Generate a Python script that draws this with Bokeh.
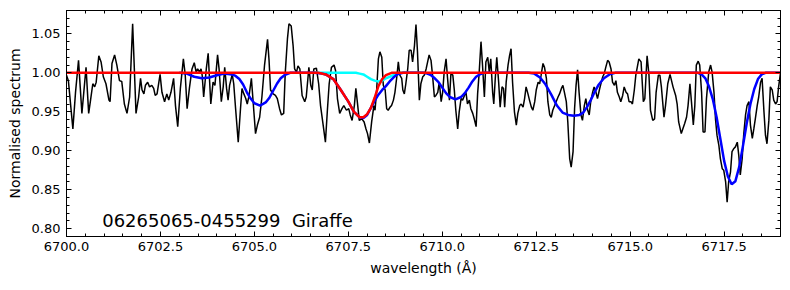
from bokeh.plotting import figure
from bokeh.models import Range1d, LinearAxis, SingleIntervalTicker, NumeralTickFormatter, Label
from bokeh.embed import file_html
from bokeh.resources import INLINE

# ---- observed spectrum (black) ----
wavelength = [
6700.00,6700.05,6700.17,6700.24,6700.32,6700.41,6700.46,6700.52,6700.59,6700.64,6700.70,6700.75,6700.79,6700.86,6700.92,6700.98,
6701.05,6701.13,6701.16,6701.21,6701.28,6701.34,6701.41,6701.47,6701.54,6701.61,6701.68,6701.76,6701.85,6701.92,6701.97,
6702.01,6702.06,6702.10,6702.16,6702.21,6702.27,6702.32,6702.36,6702.41,6702.49,6702.54,6702.61,6702.67,6702.72,6702.78,6702.85,6702.90,6702.96,
6703.03,6703.11,6703.16,6703.21,6703.27,6703.34,6703.40,6703.45,6703.49,6703.54,6703.58,6703.61,6703.65,6703.72,6703.77,
6703.84,6703.90,6703.95,6704.02,6704.06,6704.12,6704.17,6704.21,6704.26,6704.30,6704.34,6704.41,6704.45,6704.50,6704.57,6704.63,6704.67,6704.72,6704.77,6704.81,6704.86,6704.92,6704.96,
6705.03,6705.08,6705.14,6705.20,6705.27,6705.35,6705.39,6705.43,6705.50,6705.56,6705.61,6705.67,6705.72,6705.78,6705.82,6705.88,6705.92,6705.98,
6706.03,6706.07,6706.12,6706.16,6706.21,6706.27,6706.34,6706.38,6706.45,6706.50,6706.54,6706.58,6706.65,6706.71,6706.76,6706.83,6706.89,6706.94,6706.99,
6707.05,6707.12,6707.16,6707.21,6707.27,6707.33,6707.38,6707.45,6707.51,6707.55,6707.60,6707.66,6707.70,6707.75,6707.79,6707.86,6707.92,6707.97,
6708.01,6708.06,6708.12,6708.18,6708.21,6708.25,6708.30,6708.34,6708.39,6708.43,6708.48,6708.52,6708.56,6708.61,6708.65,6708.70,6708.74,6708.79,6708.83,6708.87,6708.92,6708.95,6708.99,
6709.03,6709.08,6709.12,6709.17,6709.21,6709.26,6709.30,6709.34,6709.39,6709.43,6709.48,6709.52,6709.57,6709.61,6709.65,6709.70,6709.74,6709.79,6709.83,6709.88,6709.92,6709.97,
6710.01,6710.05,6710.10,6710.14,6710.19,6710.23,6710.28,6710.32,6710.36,6710.41,6710.45,6710.50,6710.54,6710.59,6710.63,6710.67,6710.72,6710.76,6710.81,6710.85,6710.90,6710.94,6710.98,
6711.03,6711.07,6711.12,6711.16,6711.21,6711.25,6711.29,6711.34,6711.37,6711.41,6711.45,6711.50,6711.54,6711.59,6711.63,6711.66,6711.70,6711.75,6711.79,6711.83,6711.87,6711.92,6711.97,
6712.01,6712.06,6712.10,6712.15,6712.19,6712.23,6712.28,6712.32,6712.37,6712.41,6712.46,6712.50,6712.55,6712.59,6712.63,6712.68,6712.72,6712.77,6712.81,6712.86,6712.90,6712.94,6712.99,
6713.03,6713.08,6713.12,6713.17,6713.21,6713.25,6713.30,6713.34,6713.39,6713.43,6713.48,6713.52,6713.56,6713.60,6713.64,6713.69,6713.73,6713.78,6713.82,6713.87,6713.91,6713.95,
6714.00,6714.04,6714.09,6714.13,6714.18,6714.22,6714.27,6714.31,6714.35,6714.40,6714.44,6714.49,6714.53,6714.58,6714.62,6714.66,6714.71,6714.75,6714.80,6714.84,6714.89,6714.93,6714.97,
6715.02,6715.06,6715.11,6715.15,6715.23,6715.29,6715.35,6715.39,6715.45,6715.50,6715.54,6715.60,6715.65,6715.69,6715.75,6715.79,6715.83,6715.90,6715.94,
6716.00,6716.06,6716.10,6716.14,6716.21,6716.25,6716.29,6716.36,6716.40,6716.45,6716.50,6716.54,6716.59,6716.63,6716.68,6716.72,6716.76,6716.81,6716.85,6716.90,6716.94,6716.99,
6717.03,6717.09,6717.14,6717.18,6717.23,6717.27,6717.31,6717.36,6717.40,6717.45,6717.49,6717.54,6717.58,6717.62,6717.67,6717.71,6717.76,6717.80,6717.85,6717.89,6717.93,6717.98,
6718.02,6718.07,6718.11,6718.16,6718.20,6718.25,6718.29,6718.33,6718.38,6718.42,6718.47,6718.51,6718.56,6718.60,6718.64,6718.69,6718.73,6718.78,6718.82,6718.87,6718.91,6718.95,6719.00]

flux = [
0.997,0.990,0.928,0.975,1.016,0.948,0.975,1.007,0.948,0.965,0.986,0.982,0.988,1.022,1.014,0.995,
0.986,0.965,0.963,1.012,1.023,1.010,0.990,0.989,0.960,0.948,0.969,1.063,0.948,0.969,0.993,
0.978,0.973,0.984,0.988,0.982,0.984,0.980,0.971,0.973,0.998,0.975,0.963,0.973,0.965,0.975,0.993,0.958,0.931,
0.980,1.018,0.997,0.954,0.980,1.005,1.013,1.001,1.005,1.001,1.005,0.997,0.969,1.005,1.025,
0.960,0.988,0.984,1.023,1.005,0.963,0.982,1.007,0.980,0.965,0.984,0.998,0.986,0.954,0.911,0.954,0.980,0.973,0.967,0.960,0.971,0.993,0.967,
0.922,0.933,0.943,0.969,1.010,1.043,1.016,0.978,0.973,0.971,0.967,0.954,0.946,0.948,0.999,1.044,1.063,1.060,
1.035,1.005,1.001,1.009,1.005,0.971,0.963,0.969,1.007,0.984,0.978,1.005,1.006,0.986,0.958,0.933,0.911,0.950,0.986,
1.007,1.010,1.003,0.967,0.948,0.954,0.958,0.952,0.954,0.946,0.939,0.958,0.980,0.958,0.939,0.941,0.937,0.928,
0.922,0.910,0.937,0.958,0.952,0.975,1.018,1.027,1.020,0.984,0.978,0.954,0.952,0.956,0.958,0.965,0.975,0.995,1.014,0.997,0.993,0.978,0.973,
0.986,1.005,1.029,1.029,1.014,1.035,1.062,1.027,0.965,0.986,0.995,0.997,1.005,1.014,1.023,1.016,0.997,0.969,0.971,0.975,0.988,0.963,
0.975,1.001,1.018,0.993,0.965,0.999,0.997,0.978,0.952,0.928,0.950,0.967,0.965,0.971,0.975,0.960,0.965,0.954,0.948,0.941,0.931,0.973,0.999,
1.040,1.010,0.969,1.014,1.020,1.001,1.018,0.975,0.960,0.993,1.020,0.988,0.956,0.982,0.980,0.956,0.988,1.010,1.022,1.031,0.988,0.950,0.933,
0.948,0.958,0.960,0.956,0.967,0.982,0.973,0.965,0.956,0.952,0.963,0.978,0.988,0.986,0.997,1.012,1.007,0.993,0.963,0.946,0.943,0.952,0.958,
0.963,0.969,0.973,0.980,0.984,0.975,0.963,0.937,0.890,0.879,0.899,0.954,0.984,1.004,0.975,0.946,0.939,0.958,0.967,0.952,0.946,0.963,
0.975,0.982,0.975,0.967,0.978,0.986,0.995,0.999,1.007,1.016,1.014,1.005,0.988,0.984,0.990,0.975,0.969,0.963,0.971,0.982,0.975,0.973,0.963,
0.963,0.960,0.978,0.997,1.018,1.014,0.963,0.967,1.022,0.997,0.952,0.939,0.941,0.975,0.997,0.997,0.982,0.943,0.958,
0.986,0.998,0.990,0.982,0.971,0.960,0.937,0.922,0.928,0.935,0.943,0.958,0.986,0.963,0.933,0.958,1.010,1.015,1.010,0.975,0.924,0.924,
0.967,1.001,1.010,1.001,0.975,0.941,0.920,0.907,0.890,0.877,0.875,0.860,0.834,0.860,0.873,0.899,0.903,0.905,0.911,0.894,0.869,0.890,
0.920,0.946,0.958,0.963,0.933,0.916,0.928,0.941,0.958,0.969,0.988,0.993,0.950,0.920,0.909,0.939,0.982,0.978,0.965,0.960,0.963,0.982,1.000]

# ---- full synthetic fit (blue) ----
blue_wl = [6703.0,6703.2,6703.4,6703.6,6703.8,6704.0,6704.2,6704.4,6704.5,6704.6,6704.7,6704.8,6704.9,6705.0,6705.15,6705.3,6705.4,6705.5,6705.6,6705.7,6705.8,6705.95,
           6706.6,6706.8,6706.9,6707.1,6707.3,6707.5,6707.65,6707.8,6707.9,6708.0,6708.1,6708.2,6708.3,6708.4,6708.5,6708.6,6708.7,6708.8,6708.95,
           6709.5,6709.6,6709.7,6709.8,6709.9,6710.0,6710.1,6710.2,6710.35,6710.5,6710.6,6710.7,6710.8,6710.9,6711.0,6711.1,
           6712.3,6712.45,6712.6,6712.75,6712.9,6713.05,6713.2,6713.35,6713.5,6713.65,6713.75,6713.85,6713.95,6714.05,6714.15,6714.3,6714.45,6714.6,
           6716.8,6716.9,6717.0,6717.1,6717.2,6717.3,6717.4,6717.5,6717.6,6717.7,6717.8,6717.9,6718.0,6718.1,6718.2,6718.3,6718.4,6718.5,6718.6,6719.0]
blue_flux = [1.0,0.999,0.995,0.993,0.994,0.997,0.999,0.998,0.996,0.992,0.985,0.975,0.967,0.961,0.958,0.962,0.968,0.977,0.986,0.993,0.997,1.0,
             1.0,0.999,0.998,0.992,0.978,0.963,0.950,0.943,0.942,0.946,0.955,0.964,0.972,0.978,0.983,0.989,0.994,0.998,1.0,
             1.0,0.999,0.997,0.993,0.988,0.981,0.974,0.969,0.966,0.969,0.974,0.981,0.989,0.995,0.998,1.0,
             1.0,0.999,0.994,0.985,0.972,0.958,0.949,0.946,0.945,0.946,0.949,0.956,0.965,0.975,0.984,0.993,0.998,1.0,
             1.0,0.998,0.993,0.982,0.966,0.943,0.915,0.887,0.867,0.857,0.861,0.879,0.906,0.935,0.960,0.979,0.992,0.998,1.0,1.0]

# ---- Li-only fit (red) ----
red_wl = [6700.0,6706.7,6706.9,6707.1,6707.3,6707.5,6707.65,6707.8,6707.9,6708.0,6708.1,6708.2,6708.3,6708.4,6708.5,6708.65,6719.0]
red_flux = [1.0,1.0,0.998,0.992,0.978,0.963,0.950,0.943,0.943,0.947,0.955,0.968,0.983,0.992,0.997,1.0,1.0]

# ---- blend component (cyan) ----
cyan_wl = [6706.5,6707.7,6707.8,6707.9,6708.0,6708.1,6708.2,6708.3,6708.4,6708.5,6708.6,6708.7,6708.8,6708.9,6709.5]
cyan_flux = [1.0,1.0,0.999,0.998,0.995,0.992,0.990,0.989,0.990,0.993,0.995,0.997,0.999,1.0,1.0]

x_ticks_interval = 2.5
y_ticks_interval = 0.05
star_label = "06265065-0455299 \u00a0Giraffe"

FONT = "DejaVu Sans"

p = figure(width=784, height=282, x_range=Range1d(6700, 6719), y_range=Range1d(0.79, 1.08),
           output_backend="svg", toolbar_location=None,
           min_border_left=66, min_border_right=4, min_border_top=10, min_border_bottom=46,
           x_axis_label="wavelength (Å)", y_axis_label="Normalised spectrum")
p.xgrid.visible = False
p.ygrid.visible = False
p.outline_line_color = "black"
p.outline_line_width = 1
p.background_fill_color = "white"
p.border_fill_color = "white"

xt = SingleIntervalTicker(interval=x_ticks_interval, num_minor_ticks=5)
yt = SingleIntervalTicker(interval=y_ticks_interval, num_minor_ticks=5)

def style_axis(ax, labels=True):
    ax.major_tick_in = 5
    ax.major_tick_out = 0
    ax.minor_tick_in = 3
    ax.minor_tick_out = 0
    ax.axis_line_color = "black"
    ax.major_tick_line_color = "black"
    ax.minor_tick_line_color = "black"
    if labels:
        ax.major_label_text_font = FONT
        ax.major_label_text_font_size = "13px"
        ax.major_label_text_color = "black"
        ax.axis_label_text_font = FONT
        ax.axis_label_text_font_size = "14px"
        ax.axis_label_text_font_style = "normal"
        ax.axis_label_text_color = "black"
    else:
        ax.major_label_text_font_size = "1px"
        ax.major_label_text_color = None
        ax.major_label_standoff = 0

p.xaxis.ticker = xt
p.yaxis.ticker = yt
p.xaxis.formatter = NumeralTickFormatter(format="0.0")
p.yaxis.formatter = NumeralTickFormatter(format="0.00")
style_axis(p.xaxis[0])
style_axis(p.yaxis[0])
p.xaxis.major_label_standoff = 5
p.xaxis.major_label_text_align = "right"
p.xaxis.axis_label_standoff = 6
p.yaxis.major_label_standoff = 6
p.yaxis.axis_label_standoff = 6

top = LinearAxis(ticker=xt)
right = LinearAxis(ticker=yt)
style_axis(top, labels=False)
style_axis(right, labels=False)
p.add_layout(top, "above")
p.add_layout(right, "right")

p.line(wavelength, flux, line_color="black", line_width=1.5)
p.line(cyan_wl, cyan_flux, line_color="#00ffff", line_width=2.5)
p.line(blue_wl, blue_flux, line_color="#0000ff", line_width=2.5)
p.line(red_wl, red_flux, line_color="#ff0000", line_width=2.5)

p.add_layout(Label(x=6700.95, y=0.811, text=star_label, text_font=FONT, text_font_size="18px",
                   text_color="black", text_baseline="alphabetic"))

open("out.html", "w").write(file_html(p, INLINE))
